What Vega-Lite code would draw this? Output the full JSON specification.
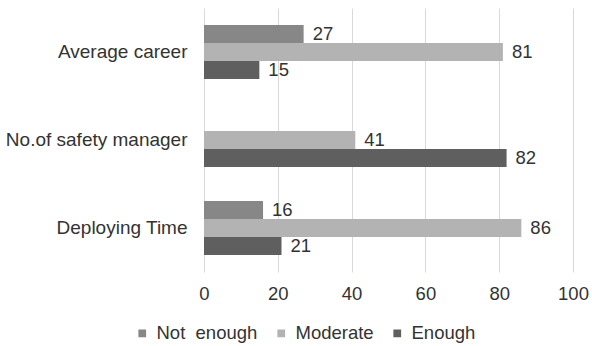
{
  "$schema": "https://vega.github.io/schema/vega-lite/v6.json",
  "width": 369,
  "height": 264,
  "autosize": "none",
  "padding": {"left": 204, "top": 8, "right": 19, "bottom": 74},
  "config": {
    "view": {"stroke": null},
    "font": "Liberation Sans",
    "axis": {"labelFont": "Liberation Sans", "labelColor": "#333333"},
    "legend": {"labelFont": "Liberation Sans", "labelColor": "#333333"}
  },
  "data": {
    "values": [
      {"item": "Average career", "level": "Not\u00a0 enough", "value": 27},
      {"item": "Average career", "level": "Moderate", "value": 81},
      {"item": "Average career", "level": "Enough", "value": 15},
      {"item": "No.of safety manager", "level": "Moderate", "value": 41},
      {"item": "No.of safety manager", "level": "Enough", "value": 82},
      {"item": "Deploying Time", "level": "Not\u00a0 enough", "value": 16},
      {"item": "Deploying Time", "level": "Moderate", "value": 86},
      {"item": "Deploying Time", "level": "Enough", "value": 21}
    ]
  },
  "encoding": {
    "y": {
      "field": "item",
      "type": "nominal",
      "sort": ["Average career", "No.of safety manager", "Deploying Time"],
      "scale": {"paddingInner": 0.386, "paddingOuter": 0.193},
      "axis": {"title": null, "domain": false, "ticks": false, "labelFontSize": 19, "labelPadding": 17, "labelColor": "#333333", "labelLimit": 300}
    },
    "yOffset": {
      "field": "level",
      "type": "nominal",
      "sort": ["Not\u00a0 enough", "Moderate", "Enough"],
      "scale": {"paddingInner": 0, "paddingOuter": 0}
    },
    "x": {
      "field": "value",
      "type": "quantitative",
      "scale": {"domain": [0, 100]},
      "axis": {"title": null, "domain": false, "ticks": false, "values": [0, 20, 40, 60, 80, 100], "labelOverlap": false, "labelFlush": false, "gridColor": "#d9d9d9", "labelFontSize": 18.5, "labelPadding": 12, "labelColor": "#333333"}
    }
  },
  "layer": [
    {
      "mark": {"type": "bar"},
      "encoding": {
        "color": {
          "field": "level",
          "type": "nominal",
          "sort": ["Not\u00a0 enough", "Moderate", "Enough"],
          "scale": {"domain": ["Not\u00a0 enough", "Moderate", "Enough"], "range": ["#878787", "#b3b3b3", "#5f5f5f"]},
          "legend": {
            "title": null,
            "orient": "none",
            "direction": "horizontal",
            "legendX": -71,
            "legendY": 316,
            "padding": 0,
            "symbolType": "square",
            "symbolSize": 60,
            "symbolStrokeWidth": 0,
            "labelFontSize": 18.5,
            "labelOffset": 5,
            "columnPadding": 14
          }
        }
      }
    },
    {
      "mark": {"type": "text", "align": "left", "baseline": "middle", "dx": 9, "fontSize": 18.5, "color": "#333333"},
      "encoding": {
        "text": {"field": "value", "type": "quantitative"}
      }
    }
  ]
}
